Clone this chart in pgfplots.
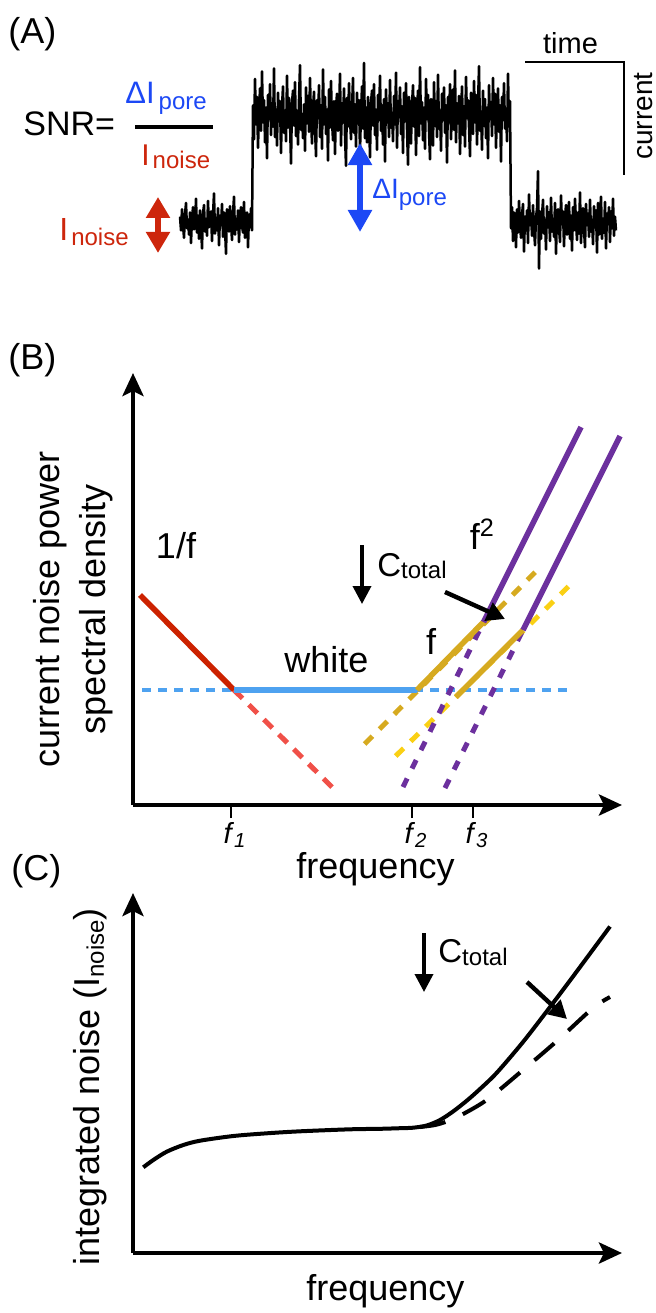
\documentclass[border=0pt]{standalone}
\usepackage{fontspec}
\setmainfont{Liberation Sans}
\usepackage{pgfplots}
\pgfplotsset{compat=1.18}
\usetikzlibrary{arrows.meta}
\definecolor{cRed}{RGB}{204,34,0}
\definecolor{cRedL}{RGB}{240,80,72}
\definecolor{cBlue}{RGB}{78,162,240}
\definecolor{cGold}{RGB}{214,170,32}
\definecolor{cYel}{RGB}{250,208,20}
\definecolor{cPur}{RGB}{108,48,158}
\definecolor{aRed}{RGB}{205,38,12}
\definecolor{aBlue}{RGB}{28,72,245}
\newcommand{\fs}[1]{\fontsize{#1}{#1}\selectfont}
\begin{document}
\begin{tikzpicture}
\useasboundingbox (0,0) rectangle (327.5pt,-656.5pt);
% ---------------- Panel A ----------------
\begin{axis}[at={(0pt,-150pt)},anchor=south west,scale only axis,
  width=327.5pt,height=150pt,xmin=0,xmax=655,ymin=-73.6,ymax=209.4,
  hide axis,clip=false]
\addplot[black,line width=1.25pt,line join=round] coordinates {
(180,5)(181,-8)(182,12)(183,-3)(184,-15)(185,7)(186,18)(187,-6)(188,2)(189,-12)(190,9)(191,-20)(192,4)(193,14)(194,-7)(195,-2)(196,22)(197,-10)(198,6)(199,-16)(200,11)(201,-4)(202,-25)(203,8)(204,16)(205,-9)(206,3)(207,-13)(208,20)(209,-5)(210,-1)(211,10)(212,-18)(213,7)(214,27)(215,-11)(216,4)(217,-8)(218,13)(219,-22)(220,6)(221,-3)(222,17)(223,-14)(224,9)(225,-6)(226,-30)(227,12)(228,5)(229,-9)(230,15)(231,-2)(232,-17)(233,8)(234,24)(235,-12)(236,3)(237,-7)(238,11)(239,-19)(240,6)(241,14)(242,-4)(243,-10)(244,19)(245,-15)(246,2)(247,9)(248,-24)(249,7)(250,-5)(251,13)(252,-8)
(253,110)(254,78)(255,135)(256,92)(257,118)(258,70)(259,104)(260,126)(261,86)(262,142)(263,94)(264,115)(265,75)(266,108)(267,60)(268,120)(269,97)(270,130)(271,82)(272,112)
(273,90)(274,145)(275,80)(276,106)(277,72)(278,122)(279,95)(280,114)(281,65)(282,109)(283,128)(284,84)(285,103)(286,76)(287,138)(288,89)(289,117)(290,94)(291,55)(292,113)
(293,124)(294,91)(295,132)(296,81)(297,105)(298,73)(299,116)(300,148)(301,87)(302,102)(303,79)(304,111)(305,67)(306,127)(307,93)(308,119)(309,85)(310,136)(311,96)(312,74)
(313,108)(314,123)(315,88)(316,62)(317,115)(318,98)(319,129)(320,80)(321,110)(322,69)(323,144)(324,92)(325,118)(326,83)(327,106)(328,58)(329,125)(330,89)(331,133)(332,95)
(333,77)(334,114)(335,64)(336,109)(337,121)(338,86)(339,103)(340,140)(341,72)(342,112)(343,94)(344,126)(345,81)(346,53)(347,117)(348,90)(349,131)(350,97)(351,78)(352,107)
(353,136)(354,84)(355,111)(356,71)(357,122)(358,93)(359,115)(360,66)(361,104)(362,128)(363,88)(364,150)(365,79)(366,108)(367,75)(368,118)(369,98)(370,61)(371,113)(372,124)
(373,91)(374,130)(375,82)(376,106)(377,68)(378,120)(379,96)(380,138)(381,86)(382,110)(383,73)(384,116)(385,57)(386,125)(387,94)(388,112)(389,80)(390,134)(391,89)(392,103)
(393,76)(394,119)(395,92)(396,141)(397,70)(398,114)(399,99)(400,127)(401,83)(402,109)(403,65)(404,122)(405,95)(406,131)(407,87)(408,54)(409,118)(410,104)(411,74)(412,111)
(413,129)(414,90)(415,117)(416,63)(417,106)(418,124)(419,81)(420,146)(421,93)(422,113)(423,77)(424,108)(425,69)(426,135)(427,97)(428,120)(429,85)(430,59)(431,116)(432,102)
(433,72)(434,132)(435,91)(436,114)(437,80)(438,139)(439,88)(440,105)(441,67)(442,121)(443,96)(444,127)(445,84)(446,110)(447,56)(448,118)(449,94)(450,130)(451,78)(452,107)
(453,125)(454,87)(455,143)(456,75)(457,112)(458,93)(459,119)(460,64)(461,103)(462,128)(463,82)(464,109)(465,71)(466,137)(467,98)(468,115)(469,89)(470,62)(471,122)(472,106)
(473,83)(474,133)(475,94)(476,120)(477,73)(478,111)(479,147)(480,86)(481,104)(482,68)(483,124)(484,91)(485,116)(486,79)(487,108)(488,60)(489,129)(490,97)(491,113)(492,81)
(493,136)(494,92)(495,121)(496,70)(497,105)(498,126)(499,85)(500,110)(501,57)(502,118)(503,96)(504,131)(505,88)(506,107)(507,76)(508,140)(509,90)(510,114)
(511,-6)(512,14)(513,-18)(514,9)(515,3)(516,-24)(517,12)(518,-10)(519,20)(520,-4)(521,-15)(522,7)(523,17)(524,-28)(525,5)(526,-8)(527,11)(528,-20)(529,26)(530,-3)
(531,8)(532,-13)(533,16)(534,-7)(535,-22)(536,4)(537,13)(538,48)(539,-44)(540,10)(541,-16)(542,6)(543,21)(544,-11)(545,2)(546,-26)(547,15)(548,-5)(549,9)(550,-18)
(551,23)(552,-9)(553,3)(554,-14)(555,18)(556,-30)(557,7)(558,12)(559,-6)(560,-19)(561,25)(562,-2)(563,10)(564,-23)(565,5)(566,16)(567,-12)(568,-4)(569,19)(570,-16)
(571,6)(572,-27)(573,14)(574,-8)(575,22)(576,-1)(577,-17)(578,9)(579,-11)(580,28)(581,-20)(582,4)(583,13)(584,-7)(585,-24)(586,17)(587,-3)(588,8)(589,-14)(590,21)
(591,-9)(592,2)(593,-21)(594,15)(595,-5)(596,11)(597,-29)(598,18)(599,-12)(600,6)(601,24)(602,-16)(603,3)(604,-10)(605,19)(606,-25)(607,8)(608,-2)(609,14)(610,-19)
(611,10)(612,-6)(613,22)(614,-13)(615,5)(616,-8)
};
% scale bar
\addplot[black,line width=1pt] coordinates {(525,150.9)(624,150.9)(624,44.3)};
\draw[aRed,line width=3.2pt,{Triangle[length=10.5pt,width=11.5pt]}-{Triangle[length=10.5pt,width=11.5pt]}] (axis cs:158,23.6) -- (axis cs:158,-29.2);
\draw[aBlue,line width=3pt,{Triangle[length=11pt,width=11.5pt]}-{Triangle[length=11pt,width=11.5pt]}] (axis cs:360,74.5) -- (axis cs:360,-9.4);
\end{axis}
% ---------------- Panel B ----------------
\begin{axis}[at={(66.5pt,-402.5pt)},anchor=south west,scale only axis,
  width=244.5pt,height=216pt,xmin=0,xmax=489,ymin=0,ymax=432,
  axis lines=left,clip=false,
  axis line style={line width=2.2pt,black},
  x axis line style={-{Stealth[length=11.5pt,width=10.5pt,inset=2.5pt]}},
  y axis line style={-{Stealth[length=11.5pt,width=10.5pt,inset=2.5pt]}},
  xtick={98,279,340},
  xticklabels={{\textit{f}\textsubscript{\textit{1}}},{\textit{f}\textsubscript{\textit{2}}},{\textit{f}\textsubscript{\textit{3}}}},
  ytick=\empty,tick align=outside,major tick length=6.5pt,
  xtick style={line width=1.2pt,black},
  xticklabel style={font={\fs{14.5}},xshift=2pt,inner sep=0pt,yshift=-2pt},
  xlabel={frequency},
  xlabel style={font={\fs{18}},at={(axis description cs:0.4959,0)},anchor=base,yshift=-36.5pt,inner sep=0pt},
  ylabel={current noise power\\spectral density},
  ylabel style={font={\fontsize{18}{23}\selectfont},align=center,at={(axis description cs:-0.0397,0.4537)},anchor=south,inner sep=0pt},
]
% dashed extrapolations
\addplot[cBlue,line width=2.2pt,dash pattern=on 4.5pt off 3.5pt] coordinates {(9,115)(441,115)};
\addplot[cRedL,line width=2.5pt,dash pattern=on 6pt off 4.5pt] coordinates {(101,115)(202,15)};
\addplot[cGold,line width=2.5pt,dash pattern=on 5.5pt off 5pt] coordinates {(231.7,61)(407.7,238.4)};
\addplot[cYel,line width=2.5pt,dash pattern=on 5.5pt off 5pt] coordinates {(262.7,49)(439,222)};
\addplot[cPur,line width=2.5pt,dash pattern=on 4.75pt off 5.5pt] coordinates {(270,18)(350.5,183)};
\addplot[cPur,line width=2.5pt,dash pattern=on 4.75pt off 5.5pt] coordinates {(312,17)(390,175)};
% solid segments
\addplot[cRed,line width=2.8pt] coordinates {(7,210)(101,115)};
\addplot[cBlue,line width=3.2pt] coordinates {(101,115)(284,115)};
\addplot[cGold,line width=2.8pt] coordinates {(284,115)(350.5,183)};
\addplot[cGold,line width=2.8pt] coordinates {(323,108)(390,175)};
\addplot[cPur,line width=2.8pt] coordinates {(350.5,183)(448,378)};
\addplot[cPur,line width=2.8pt] coordinates {(390,175)(487,369)};
% labels and arrows
\node[anchor=base,font={\fs{18}}] at (axis cs:43,247) {1/f};
\node[anchor=base,font={\fs{18}}] at (axis cs:193.5,133) {white};
\node[anchor=base,font={\fs{18}}] at (axis cs:298,151) {f};
\node[anchor=base,font={\fs{18}}] at (axis cs:349.5,256) {f\textsuperscript{2}};
\node[anchor=base west,inner sep=0pt] at (axis cs:244,229) {\fs{16.5}C\raisebox{-1pt}{\fs{12}total}};
\draw[black,line width=1.8pt,-{Triangle[length=9pt,width=9pt]}] (axis cs:229,260) -- (axis cs:229,201);
\draw[black,line width=2.2pt,-{Triangle[length=9pt,width=9.5pt]}] (axis cs:312,213) -- (axis cs:372,186);
\end{axis}
% ---------------- Panel C ----------------
\begin{axis}[at={(66.5pt,-626.5pt)},anchor=south west,scale only axis,
  width=244.5pt,height=180pt,xmin=0,xmax=489,ymin=0,ymax=360,
  axis lines=left,clip=false,
  axis line style={line width=2.2pt,black},
  x axis line style={-{Stealth[length=11.5pt,width=10.5pt,inset=2.5pt]}},
  y axis line style={-{Stealth[length=11.5pt,width=10.5pt,inset=2.5pt]}},
  xtick=\empty,ytick=\empty,
  xlabel={frequency},
  xlabel style={font={\fs{18}},at={(axis description cs:0.516,0)},anchor=base,yshift=-23.5pt,inner sep=0pt},
  ylabel={integrated noise (I\raisebox{-2pt}{\fs{12}noise})},
  ylabel style={font={\fs{18}},at={(axis description cs:-0.0675,0.461)},anchor=base,inner sep=0pt},
]
\addplot[black,line width=2pt,smooth,tension=0.5] coordinates {
(10.3,85.7)(20.3,93)(33.7,101.3)(50.3,108)(67,112.3)(100.3,117)(133.7,119.7)(167,121.7)(217,123.7)(247,124.2)(267,124.8)(280,125.3)(293.7,127.5)(307,133)(320,141.5)(334,152.5)(347,164)(364,180.5)(390,211)(414,242)(440,276.5)(477,326.5)};
\addplot[black,line width=2pt,smooth,tension=0.5,dash pattern=on 13pt off 9.5pt] coordinates {
(287,126)(302,128)(315,132)(332,140)(355,154)(390,183)(425,213)(460,245)(477,256)};
\node[anchor=base west,inner sep=0pt] at (axis cs:305,291) {\fs{16.5}C\raisebox{-1.5pt}{\fs{12}total}};
\draw[black,line width=1.8pt,-{Triangle[length=9pt,width=9pt]}] (axis cs:291,320) -- (axis cs:291,261);
\draw[black,line width=2.2pt,-{Triangle[length=9pt,width=9.5pt]}] (axis cs:394,271) -- (axis cs:434,234);
\end{axis}
% ---------------- free text ----------------
\begin{scope}[x=0.5pt,y=-0.5pt]
\node[anchor=base west,inner sep=0pt] at (8,43) {\fs{18}(A)};
\node[anchor=base west,inner sep=0pt] at (8,369.5) {\fs{18}(B)};
\node[anchor=base west,inner sep=0pt] at (11,880.5) {\fs{18}(C)};
\node[anchor=base west,inner sep=0pt] at (23,135) {\fs{17}SNR=};
\draw[black,line width=2pt] (135,127) -- (213,127);
\node[anchor=base west,inner sep=0pt,text=aBlue] at (125,103) {\fs{15.5}ΔI\hspace{2pt}\raisebox{-3pt}{\fs{12}pore}};
\node[anchor=base west,inner sep=0pt,text=aRed] at (141,165) {\fs{15}I\hspace{1.5pt}\raisebox{-1.5pt}{\fs{12}noise}};
\node[anchor=base west,inner sep=0pt,text=aRed] at (59,240) {\fs{16}I\hspace{1.5pt}\raisebox{-2.5pt}{\fs{12}noise}};
\node[anchor=base west,inner sep=0pt,text=aBlue] at (372,198) {\fs{14}ΔI\raisebox{-3.5pt}{\fs{12}pore}};
\node[anchor=base,inner sep=0pt] at (570.5,53) {\fs{14.5}time};
\node[anchor=base,inner sep=0pt,rotate=90] at (652,116) {\fs{14}current};
\end{scope}
\end{tikzpicture}
\end{document}
